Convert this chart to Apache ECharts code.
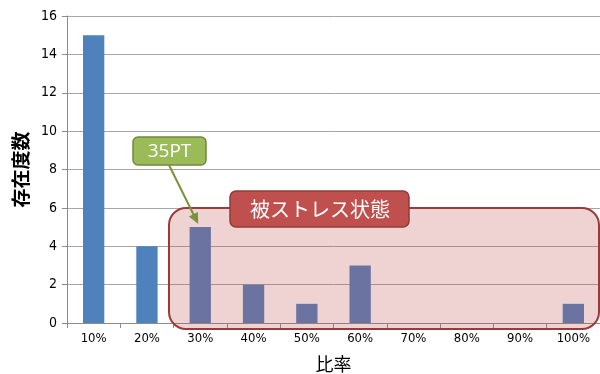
<!DOCTYPE html>
<html>
<head>
<meta charset="utf-8">
<script src="https://cdn.jsdelivr.net/npm/echarts@6/dist/echarts.min.js"></script>
<style>
  html, body { margin: 0; padding: 0; background: #ffffff; }
  #chart { width: 600px; height: 374px; }
</style>
</head>
<body>
<div id="chart"></div>
<script>
// Ratio buckets and how many items fall in each
const categories = ['10%', '20%', '30%', '40%', '50%', '60%', '70%', '80%', '90%', '100%'];
const counts = [15, 4, 5, 2, 1, 3, 0, 0, 0, 1];
const yMin = 0;
const yMax = 16;
const yStep = 2;
const xTitle = '比率';
const yTitle = '存在度数';
const calloutText = '35PT';
const calloutTarget = '30%';
const zoneText = '被ストレス状態';

const chart = echarts.init(document.getElementById('chart'), null, { renderer: 'canvas' });

const tickFont = '"Liberation Sans Narrow", "DejaVu Sans Condensed", sans-serif';
const cjkFont = '"Noto Sans CJK JP", "Noto Sans", sans-serif';

chart.setOption({
  animation: false,
  backgroundColor: '#ffffff',
  grid: { left: 67, right: 0, top: 16, bottom: 51, containLabel: false, outerBoundsMode: 'none' },
  xAxis: {
    type: 'category',
    data: categories,
    name: xTitle,
    nameLocation: 'middle',
    nameGap: 32,
    nameTextStyle: { fontFamily: cjkFont, fontSize: 18, color: '#000' },
    axisLine: { lineStyle: { color: '#8c8c8c', width: 1 } },
    axisTick: { show: true, length: 5, lineStyle: { color: '#8c8c8c' } },
    axisLabel: { fontFamily: tickFont, fontSize: 13, color: '#000', margin: 9 },
    splitLine: { show: false }
  },
  yAxis: {
    type: 'value',
    min: yMin,
    max: yMax,
    interval: yStep,
    name: yTitle,
    nameLocation: 'middle',
    nameGap: 30,
    nameRotate: 90,
    nameTextStyle: { fontFamily: cjkFont, fontSize: 19, color: '#000', fontWeight: 'bold' },
    axisLine: { show: true, lineStyle: { color: '#8c8c8c', width: 1 } },
    axisTick: { show: true, length: 5, inside: false, lineStyle: { color: '#8c8c8c' } },
    axisLabel: { fontFamily: tickFont, fontSize: 14, color: '#000', margin: 10 },
    splitLine: { show: true, lineStyle: { color: '#a6a6a6', width: 1 } }
  },
  series: [{
    type: 'bar',
    data: counts,
    barWidth: '40%',
    itemStyle: { color: '#4f81bd' }
  }]
});

// Annotation layer: stressed zone, its label, and the callout arrow
function drawAnnotations() {
  const tip = chart.convertToPixel({ xAxisIndex: 0, yAxisIndex: 0 }, [calloutTarget, counts[categories.indexOf(calloutTarget)]]);
  const start = [169, 165];
  const end = [tip[0] - 2, tip[1] - 3];
  const dx = end[0] - start[0], dy = end[1] - start[1];
  const len = Math.sqrt(dx * dx + dy * dy);
  const ux = dx / len, uy = dy / len;
  const headLen = 11, headHalf = 5;
  const baseX = end[0] - ux * headLen, baseY = end[1] - uy * headLen;
  const head = [
    [end[0], end[1]],
    [baseX - uy * headHalf, baseY + ux * headHalf],
    [baseX + uy * headHalf, baseY - ux * headHalf]
  ];

  chart.setOption({
    graphic: [
      {
        type: 'rect', z: 100,
        shape: { x: 169, y: 208, width: 430, height: 121, r: 17 },
        style: { fill: 'rgba(192,80,77,0.25)', stroke: '#9b3b39', lineWidth: 2 }
      },
      {
        type: 'rect', z: 101,
        shape: { x: 230, y: 191, width: 179, height: 36, r: 6 },
        style: { fill: '#c0504d', stroke: '#8e3b39', lineWidth: 1.5 }
      },
      {
        type: 'text', z: 102,
        x: 320, y: 209,
        style: { text: zoneText, fill: '#ffffff', font: '20px ' + cjkFont, align: 'center', verticalAlign: 'middle' }
      },
      {
        type: 'rect', z: 101,
        shape: { x: 133, y: 137, width: 73, height: 28, r: 5 },
        style: { fill: '#9bbb59', stroke: '#71893f', lineWidth: 1.5 }
      },
      {
        type: 'text', z: 102,
        x: 169.5, y: 151.5,
        style: { text: calloutText, fill: '#ffffff', font: '19px "Open Sans", "Noto Sans", sans-serif', align: 'center', verticalAlign: 'middle' }
      },
      {
        type: 'line', z: 102,
        shape: { x1: start[0], y1: start[1], x2: baseX + ux * 2, y2: baseY + uy * 2 },
        style: { stroke: '#77933c', lineWidth: 2 }
      },
      {
        type: 'polygon', z: 102,
        shape: { points: head },
        style: { fill: '#77933c' }
      }
    ]
  });
}
drawAnnotations();
</script>
</body>
</html>
